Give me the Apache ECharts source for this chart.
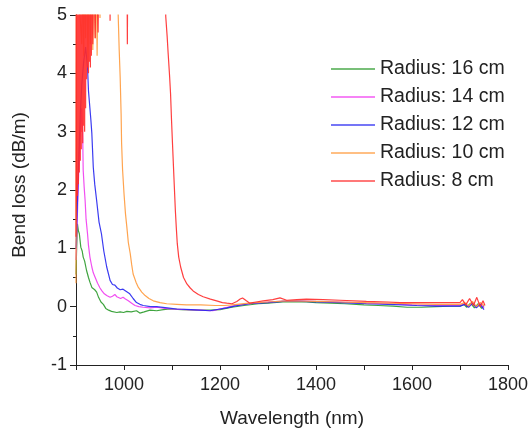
<!DOCTYPE html>
<html>
<head>
<meta charset="utf-8">
<script src="https://cdn.jsdelivr.net/npm/echarts@6/dist/echarts.min.js"></script>
<style>
html,body{margin:0;padding:0;background:#fff;}
#chart{width:532px;height:430px;}
</style>
</head>
<body>
<div id="chart"></div>
<script>
// ---- data ----
var seriesNames = ['Radius: 16 cm', 'Radius: 14 cm', 'Radius: 12 cm', 'Radius: 10 cm', 'Radius: 8 cm'];
var xTicks = [1000, 1200, 1400, 1600, 1800];
var yTicks = [-1, 0, 1, 2, 3, 4, 5];

var r16 = [[900,0.55],[901,0.9],[903,1.42],[905,1.3],[907,1.25],[910,1.02],[913,0.95],[915,0.85],[918,0.78],[922,0.62],[926,0.5],[929,0.42],[933,0.33],[936,0.3],[939,0.29],[943,0.25],[947,0.16],[952,0.08],[957,0.04],[962,-0.03],[968,-0.06],[974,-0.08],[978,-0.07],[985,-0.1],[992,-0.09],[999,-0.1],[1006,-0.08],[1015,-0.09],[1026,-0.07],[1033,-0.11],[1042,-0.09],[1054,-0.06],[1068,-0.07],[1082,-0.05],[1096,-0.04],[1120,-0.05],[1150,-0.06],[1180,-0.06],[1200,-0.05],[1225,-0.01],[1250,0.02],[1280,0.05],[1300,0.06],[1330,0.08],[1350,0.08],[1380,0.08],[1400,0.07],[1430,0.06],[1460,0.05],[1500,0.03],[1530,0.02],[1560,0.01],[1590,-0.01],[1620,-0.01],[1650,0.0],[1680,0.01],[1700,0.01],[1708,0.04],[1714,-0.01],[1722,0.06],[1730,-0.02],[1738,0.05],[1745,-0.03],[1750,0.02]];

var r14 = [[900,0.8],[903,1.6],[906,2.4],[909,3.0],[912,3.4],[914,2.9],[915,2.34],[917,2.05],[919,1.82],[921,1.5],[924,1.25],[926,1.05],[929,0.85],[933,0.68],[936,0.58],[940,0.5],[945,0.4],[950,0.32],[954,0.27],[959,0.22],[964,0.19],[971,0.16],[976,0.18],[981,0.21],[985,0.17],[988,0.15],[993,0.14],[998,0.16],[1003,0.13],[1009,0.1],[1016,0.06],[1023,0.02],[1031,0.0],[1040,-0.01],[1055,-0.02],[1068,-0.01],[1085,-0.03],[1100,-0.04],[1130,-0.05],[1160,-0.06],[1185,-0.07],[1200,-0.04],[1230,0.02],[1260,0.05],[1300,0.08],[1340,0.1],[1370,0.1],[1400,0.09],[1450,0.08],[1500,0.06],[1550,0.05],[1600,0.03],[1650,0.02],[1700,0.02],[1710,0.05],[1718,0.0],[1726,0.07],[1734,-0.01],[1742,0.06],[1750,-0.02]];

var r12 = [[900,1.0],[903,1.8],[906,2.6],[909,3.3],[912,3.8],[916,4.2],[920,4.45],[922,4.46],[924,4.1],[926,3.7],[928,3.5],[931,3.2],[933,2.97],[936,2.39],[939,2.1],[943,1.82],[948,1.45],[953,1.25],[958,0.95],[964,0.68],[971,0.45],[976,0.38],[981,0.37],[986,0.32],[992,0.29],[998,0.3],[1005,0.26],[1012,0.22],[1019,0.14],[1026,0.07],[1033,0.04],[1040,0.02],[1055,0.0],[1068,0.0],[1090,-0.02],[1110,-0.04],[1140,-0.05],[1179,-0.07],[1200,-0.04],[1214,-0.02],[1230,0.01],[1262,0.05],[1300,0.07],[1332,0.09],[1370,0.09],[1401,0.08],[1450,0.07],[1505,0.05],[1550,0.04],[1610,0.02],[1650,0.01],[1672,0.01],[1700,0.01],[1710,0.04],[1718,-0.01],[1726,0.06],[1734,-0.02],[1742,0.04],[1750,-0.05]];

var r10 = [[900,0.4],[901,6],[912,4.5],[914,6],[916,4.3],[918,6],[920,4.6],[922,6],[925,4.2],[927,6],[930,4.5],[932,6],[935,4.4],[937,6],[940,4.6],[942,6],[944,4.3],[946,6],[950,4.95],[951,6],[985,6],[988,4.97],[990,4.4],[992,3.94],[994,3.3],[995,2.8],[997,2.35],[1000,1.94],[1003,1.6],[1006,1.36],[1009,1.1],[1013,0.91],[1016,0.72],[1019,0.56],[1025,0.42],[1030,0.33],[1037,0.25],[1044,0.19],[1052,0.14],[1061,0.1],[1075,0.07],[1089,0.05],[1110,0.04],[1130,0.03],[1160,0.03],[1190,0.02],[1210,0.02],[1235,0.04],[1260,0.06],[1300,0.08],[1340,0.1],[1400,0.09],[1450,0.08],[1500,0.07],[1550,0.06],[1600,0.05],[1650,0.04],[1700,0.04],[1710,0.07],[1718,0.01],[1726,0.09],[1734,0.0],[1742,0.07],[1750,0.02]];

var r8 = [[900,1.2],[900.5,6],[901,1.8],[901.5,6],[902,2.0],[902.5,6],[903,1.9],[903.5,6],[904,2.2],[904.5,6],[905,2.1],[905.5,6],[906,2.4],[906.5,6],[907,2.3],[907.5,6],[908,2.6],[908.5,6],[909,2.5],[909.5,6],[910,2.8],[910.5,6],[911,2.7],[911.5,6],[912,3.0],[913,6],[914,2.8],[915,6],[916,3.1],[917,6],[918,3.0],[919,6],[920,3.4],[921,6],[922,3.9],[923,6],[924,4.1],[925,6],[926,4.0],[927,6],[928,4.2],[929,6],[930,4.1],[931,6],[932,4.3],[933,6],[935,4.5],[937,6],[940,4.6],[942,6],[946,4.7],[948,6],[960,8],[970,8],[971,4.9],[972,8],[1005,8],[1007,4.5],[1009,8],[1080,8],[1087,4.97],[1090,4.62],[1092,4.34],[1095,3.95],[1097,3.65],[1099,3.2],[1101,2.8],[1104,2.22],[1107,1.65],[1109,1.35],[1111,1.08],[1114,0.85],[1118,0.68],[1124,0.5],[1131,0.39],[1138,0.32],[1144,0.27],[1155,0.21],[1165,0.17],[1180,0.13],[1193,0.1],[1205,0.07],[1214,0.06],[1225,0.05],[1235,0.09],[1242,0.13],[1247,0.15],[1255,0.1],[1262,0.06],[1275,0.08],[1290,0.1],[1310,0.12],[1325,0.15],[1339,0.11],[1360,0.12],[1380,0.13],[1415,0.12],[1450,0.11],[1505,0.09],[1550,0.08],[1575,0.07],[1620,0.07],[1672,0.07],[1700,0.07],[1705,0.12],[1712,0.03],[1720,0.14],[1728,0.02],[1735,0.16],[1742,0.0],[1748,0.1],[1752,0.02]];

var seriesData = [r16, r14, r12, r10, r8];
var colors = ['#2a9a2a', '#f03cf0', '#2626f0', '#ff9a3c', '#ff2a2a'];

// ---- chart ----
var chart = echarts.init(document.getElementById('chart'), null, {renderer: 'canvas'});
var font = 'Liberation Sans, Arial, sans-serif';
var series = seriesNames.map(function (n, i) {
  return {
    name: n,
    type: 'line',
    data: seriesData[i],
    symbol: 'none',
    showSymbol: false,
    clip: true,
    smooth: false,
    lineStyle: {color: colors[i], width: 1.2, opacity: 0.9},
    itemStyle: {color: colors[i]},
    z: 2 + i
  };
});

chart.setOption({
  animation: false,
  backgroundColor: '#ffffff',
  grid: {left: 76, right: 24, top: 15, bottom: 65, containLabel: false, outerBoundsMode: 'none'},
  legend: {
    orient: 'vertical',
    left: 326,
    top: 54,
    icon: 'rect',
    itemWidth: 44,
    itemHeight: 1.5,
    itemGap: 8,
    textStyle: {fontFamily: font, fontSize: 19.5, color: '#222'},
    data: seriesNames.map(function (n, i) {
      return {name: n, itemStyle: {color: colors[i], opacity: 0.85}};
    })
  },
  xAxis: {
    type: 'value',
    min: 900,
    max: 1800,
    interval: 100,
    name: 'Wavelength (nm)',
    nameLocation: 'middle',
    nameGap: 44,
    nameTextStyle: {fontFamily: font, fontSize: 19, color: '#222'},
    axisLine: {show: true, onZero: false, lineStyle: {color: '#222', width: 1}},
    axisTick: {show: true, inside: false, length: 5, lineStyle: {color: '#222'}},
    axisLabel: {
      fontFamily: font, fontSize: 18, color: '#222', margin: 11,
      formatter: function (v) { return xTicks.indexOf(v) >= 0 ? String(v) : ''; }
    },
    splitLine: {show: false}
  },
  yAxis: {
    type: 'value',
    min: -1,
    max: 5,
    interval: 1,
    name: 'Bend loss (dB/m)',
    nameLocation: 'middle',
    nameGap: 47,
    nameTextStyle: {fontFamily: font, fontSize: 19, color: '#222', padding: [0, 0, 0, 10]},
    axisLine: {show: true, lineStyle: {color: '#222', width: 1}},
    axisTick: {show: true, inside: false, length: 6, lineStyle: {color: '#222'}},
    minorTick: {show: true, splitNumber: 2, length: 3, lineStyle: {color: '#222'}},
    axisLabel: {
      fontFamily: font, fontSize: 18, color: '#222', margin: 9,
      formatter: function (v) { return yTicks.indexOf(v) >= 0 ? String(v) : ''; }
    },
    splitLine: {show: false},
    minorSplitLine: {show: false}
  },
  series: series
});
</script>
</body>
</html>
